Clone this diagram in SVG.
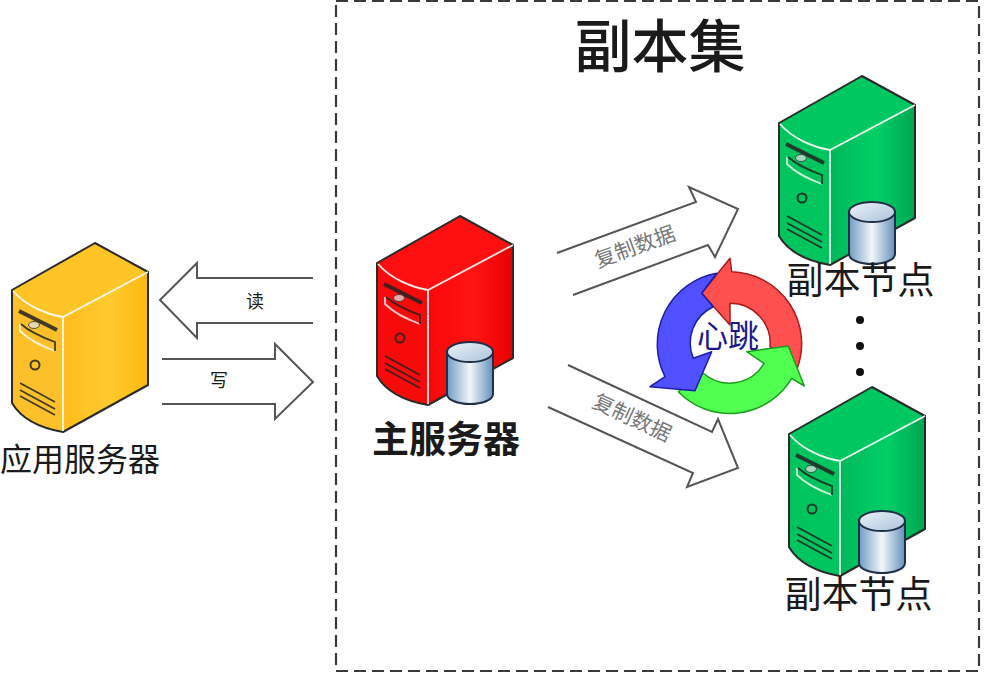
<svg xmlns="http://www.w3.org/2000/svg" xmlns:xlink="http://www.w3.org/1999/xlink" width="984" height="678" viewBox="0 0 984 678">
<style>
text{font-family:"Noto Sans CJK SC","Noto Sans",sans-serif;text-anchor:middle;fill:#1a1a1a}
.frame{fill:none;stroke:#3a3a3a;stroke-width:2.2;stroke-dasharray:12 6}
.arrow{fill:#fff;stroke:#555;stroke-width:2;stroke-linejoin:miter}
.edge{fill:none;stroke:#fff;stroke-width:1.8;stroke-opacity:.9}
.outline{fill:none;stroke:#2a2a2a;stroke-width:2;stroke-linejoin:round}
.line{fill:none;stroke:#222;stroke-width:1.8;stroke-opacity:.85}
.small{font-size:18px}
.copy{font-size:21px;fill:#777}
.label{font-size:37px}
</style>
<defs>
<linearGradient id="yr" x1="0" x2="1" y1="0" y2="0"><stop offset="0" stop-color="#ffbe1c"/><stop offset=".55" stop-color="#ffc92f"/><stop offset="1" stop-color="#fdb80f"/></linearGradient>
<linearGradient id="rr" x1="0" x2="1" y1="0" y2="0"><stop offset="0" stop-color="#fa0808"/><stop offset=".55" stop-color="#ff1414"/><stop offset="1" stop-color="#e80000"/></linearGradient>
<linearGradient id="gr" x1="0" x2="1" y1="0" y2="0"><stop offset="0" stop-color="#00b85a"/><stop offset=".55" stop-color="#00d066"/><stop offset="1" stop-color="#00a651"/></linearGradient>
<linearGradient id="cyl" x1="0" x2="1" y1="0" y2="0"><stop offset="0" stop-color="#6f9cc4"/><stop offset=".5" stop-color="#f2f6fa"/><stop offset="1" stop-color="#6390bb"/></linearGradient>
<linearGradient id="cylTop" x1="0" x2="1" y1="0" y2="1"><stop offset="0" stop-color="#eef3f8"/><stop offset="1" stop-color="#a9c3dc"/></linearGradient>
<path id="top" d="M12 290L95 243L148 272L63 317C45 314 25 305 12 290Z"/>
<path id="front" d="M12 290C25 305 45 314 63 317V432C40 428 22 420 12 403Z"/>
<path id="right" d="M63 317L148 272V385L63 432Z"/>
<g id="details">
<path class="outline" d="M12 290L95 243L148 272V385L63 432C40 428 22 420 12 403Z"/>
<path class="edge" d="M13 291C25 305 45 314 63 317L148 272M63 317V431"/>
<path d="M19 311L57 330" fill="none" stroke="#222" stroke-width="4" stroke-opacity=".85"/>
<ellipse cx="34" cy="325" rx="5.5" ry="3.5" fill="#ddd" fill-opacity=".75" stroke="#333" stroke-width=".8"/>
<path d="M20 324V331C30 341 44 347 55 351" fill="none" stroke="#fff" stroke-width="1.8" stroke-opacity=".8"/>
<path d="M21 324C30 332 44 338 55 342V351" fill="none" stroke="#222" stroke-width="1.8" stroke-opacity=".85"/>
<circle cx="35" cy="365" r="4.5" fill="none" stroke="#222" stroke-width="2" stroke-opacity=".85"/>
<path class="line" d="M20 383L55 402M20 390L55 409M20 396L55 415"/>
</g>
<g id="cylinder">
<path d="M447 352V394C447 400 458 404 470 404S493 400 493 394V352Z" fill="url(#cyl)" stroke="#1f2f45" stroke-width="2"/>
<ellipse cx="470" cy="352" rx="23" ry="10" fill="url(#cylTop)" stroke="#1f2f45" stroke-width="2"/>
</g>
</defs>

<rect class="frame" x="336" y="1" width="643" height="670"/>
<text x="660" y="67" font-size="57" font-weight="500">副本集</text>

<g id="connectors">
<path class="arrow" d="M313 278H197V263L160 300L197 338V323H313"/>
<path class="arrow" d="M162 359H275V344L313 382L275 419V404H162"/>
<path class="arrow" d="M557 253L696 202L689 187L738 209L715 257L708 245L573 295"/>
<path class="arrow" d="M568 365L712 432L718 419L738 468L687 487L693 473L548 407"/>
<text class="small" x="255" y="308">读</text>
<text class="small" x="219" y="387">写</text>
<text class="copy" transform="translate(635,247) rotate(-20)" y="7">复制数据</text>
<text class="copy" transform="translate(632,418) rotate(25)" y="7">复制数据</text>
</g>

<g id="app-server">
<g><use href="#top" fill="#ffc526"/><use href="#front" fill="#fcc12a"/><use href="#right" fill="url(#yr)"/><use href="#details"/></g>
<text x="80" y="471" font-size="32">应用服务器</text>
</g>

<g id="primary-server">
<g transform="translate(365,-27)"><use href="#top" fill="#ff1010"/><use href="#front" fill="#f80a0a"/><use href="#right" fill="url(#rr)"/><use href="#details"/></g>
<use href="#cylinder"/>
<text x="446" y="453" font-size="37" font-weight="700">主服务器</text>
</g>

<g id="replica-1">
<g transform="translate(767,-167)"><use href="#top" fill="#00c860"/><use href="#front" fill="#00c45e"/><use href="#right" fill="url(#gr)"/><use href="#details"/></g>
<use href="#cylinder" transform="translate(402,-140)"/>
<text class="label" x="860.5" y="294">副本节点</text>
</g>

<g id="replica-2">
<g transform="translate(777,144)"><use href="#top" fill="#00c860"/><use href="#front" fill="#00c45e"/><use href="#right" fill="url(#gr)"/><use href="#details"/></g>
<use href="#cylinder" transform="translate(412,169)"/>
<text class="label" x="858.5" y="608">副本节点</text>
</g>

<g id="ellipsis" fill="#111">
<circle cx="860" cy="320" r="4"/><circle cx="860" cy="346" r="4"/><circle cx="860" cy="372" r="4"/>
</g>

<g id="heartbeat">
<path d="M730 258.3L701.7 293.3L730 325V303.3A40 40 0 0 1 770 346.7L797.3 368.3A72 72 0 0 0 731.7 271.7Z" fill="#ff5050" stroke="#a81c1c" stroke-width="1.5" stroke-linejoin="round"/>
<path d="M746.7 351.7L788.3 346L804.3 386L791.7 378.3A72 72 0 0 1 678.3 391.7L703.3 373.3A40 40 0 0 0 764 363.3Z" fill="#50ff50" stroke="#1c9c1c" stroke-width="1.5" stroke-linejoin="round"/>
<path d="M716.7 273.3L701.7 293.3L713.3 306.7A40 40 0 0 0 693.3 358.3L711.7 351.7L695 390.7L650 386.7L665 376.7A72 72 0 0 1 716.7 273.3Z" fill="#5050ff" stroke="#1c1ca8" stroke-width="1.5" stroke-linejoin="round"/>
<text x="728" y="347" font-size="31" style="fill:#1a1a8c">心跳</text>
</g>
</svg>
